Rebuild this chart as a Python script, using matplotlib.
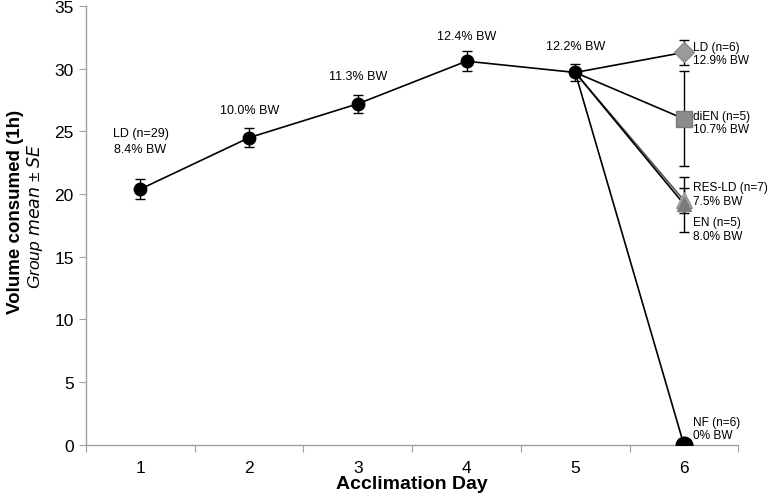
import matplotlib
matplotlib.use("Agg")
import matplotlib.pyplot as plt
import numpy as np

plt.rcParams['font.family'] = ['Liberation Sans', 'DejaVu Sans']

# acclimation days 1-5, all animals on LD
days = [1, 2, 3, 4, 5]
acc_mean = [20.4, 24.5, 27.2, 30.6, 29.7]
acc_se = [0.8, 0.75, 0.7, 0.8, 0.65]
acc_labels = ["LD (n=29)\n8.4% BW", "10.0% BW", "11.3% BW", "12.4% BW", "12.2% BW"]
acc_label_y = [24.2, 26.7, 29.4, 32.6, 31.8]

# day 6, split into diet groups
groups = ["LD", "diEN", "RES-LD", "EN", "NF"]
day6_mean = [31.3, 26.0, 19.5, 19.2, 0.0]
day6_se = [1.0, 3.8, 1.0, 2.2, 0.0]
group_n = [6, 5, 7, 5, 6]
group_bw = ["12.9%", "10.7%", "7.5%", "8.0%", "0%"]
group_label_y = [31.2, 25.7, 20.0, 17.2, 1.3]

marker_style = {
    "LD": dict(marker="D", ms=10, mfc="#9a9a9a", mec="#8a8a8a"),
    "diEN": dict(marker="s", ms=11, mfc="#8c8c8c", mec="#7a7a7a"),
    "RES-LD": dict(marker="^", ms=12, mfc="#a8a8a8", mec="#9a9a9a"),
    "EN": dict(marker="^", ms=10, mfc="#7c7c7c", mec="#7c7c7c"),
    "NF": dict(marker="o", ms=12, mfc="black", mec="black"),
}

fig = plt.figure(figsize=(7.69, 5.02), dpi=100)
ax = fig.add_axes([0.112, 0.112, 0.848, 0.874])

# lines from day 5 to each day-6 group
for g, m in zip(groups, day6_mean):
    col = "#555555" if g == "RES-LD" else "black"
    ax.plot([days[-1], 6], [acc_mean[-1], m], color=col, lw=1.2, zorder=2)

ax.errorbar(days, acc_mean, yerr=acc_se, fmt="o-", color="black", ms=9,
            lw=1.2, elinewidth=1, capsize=3.5, capthick=1, zorder=3)

for g, m, se in zip(groups, day6_mean, day6_se):
    if se > 0:
        ax.errorbar([6], [m], yerr=[se], fmt="none", ecolor="black",
                    elinewidth=1, capsize=3.5, capthick=1, zorder=3)
    ax.plot([6], [m], linestyle="none", zorder=4, **marker_style[g])

for d, lab, ly in zip(days, acc_labels, acc_label_y):
    ax.text(d, ly, lab, ha="center", va="center", fontsize=9, linespacing=1.45)

for g, n, bw, ly in zip(groups, group_n, group_bw, group_label_y):
    ax.text(6.08, ly, "%s (n=%d)\n%s BW" % (g, n, bw), ha="left", va="center",
            fontsize=8.6, linespacing=1.15)

ax.set_xlim(0.5, 6.5)
ax.set_ylim(0, 35)
ax.set_yticks(np.arange(0, 36, 5))
ax.set_xticks(np.arange(0.5, 6.6, 1))
ax.set_xticklabels([])
ax.set_xticks(days + [6], minor=True)
ax.set_xticklabels([str(d) for d in days + [6]], minor=True)
ax.tick_params(axis="x", which="minor", length=0, labelsize=12.5, pad=11)
ax.tick_params(axis="x", which="major", length=5, color="#a0a0a0")
ax.tick_params(axis="y", length=5, color="#a0a0a0", labelsize=12.5, pad=4)

for s in ["top", "right"]:
    ax.spines[s].set_visible(False)
for s in ["left", "bottom"]:
    ax.spines[s].set_color("#a0a0a0")
    ax.spines[s].set_linewidth(1)

ax.set_xlabel("Acclimation Day", fontsize=14, fontweight="bold", labelpad=0)
fig.text(0.02, 0.578, "Volume consumed (1h)", rotation=90, ha="center",
         va="center", fontsize=13.5, fontweight="bold")
fig.text(0.046, 0.57, "Group $\\it{mean}$ \u00b1 $\\it{SE}$", rotation=90,
         ha="center", va="center", fontsize=12.5, fontstyle="italic")

fig.savefig("out.png", dpi=100)
